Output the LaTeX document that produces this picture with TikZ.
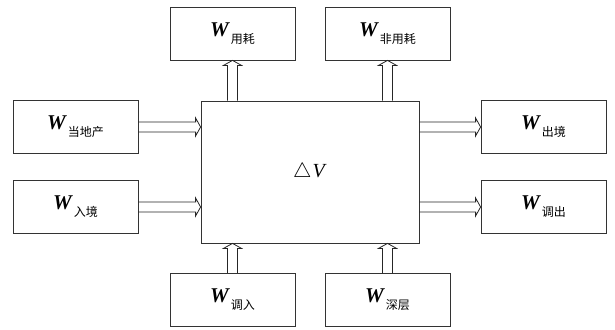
\documentclass[tikz,border=0pt]{standalone}
\usepackage{fontspec}
\setmainfont{Liberation Serif}
\newfontfamily\cjk{Noto Sans CJK SC}
\usetikzlibrary{calc}
\newcommand{\wlab}[1]{{\fontsize{21}{21}\selectfont\bfseries\itshape W}\hspace{2pt}\raisebox{-7pt}{\cjk\fontsize{12}{12}\selectfont #1}}
% upward block-outline arrow from #1 (base) to #2 (tip); y axis points down
\newcommand{\uparr}[2]{\draw[arr] ($(#1)+(-5,0)$) -- ($(#2)+(-5,5)$) -- ($(#2)+(-9,5)$) -- (#2) -- ($(#2)+(9,5)$) -- ($(#2)+(5,5)$) -- ($(#1)+(5,0)$);}
% rightward block-outline arrow from #1 (base) to #2 (tip)
\newcommand{\rtarr}[2]{\draw[arr] ($(#1)+(0,-5)$) -- ($(#2)+(-5,-5)$) -- ($(#2)+(-5,-9)$) -- (#2) -- ($(#2)+(-5,9)$) -- ($(#2)+(-5,5)$) -- ($(#1)+(0,5)$);}
\begin{document}
\begin{tikzpicture}[x=1pt,y=-1pt,
  box/.style={draw=black!80, line width=0.8pt, minimum width=125pt, minimum height=53pt, inner sep=0pt},
  arr/.style={draw=black!85, line width=0.8pt, line join=miter}]
\useasboundingbox (0,0) rectangle (615,329);
\node[box, minimum width=218pt, minimum height=142pt] (c) at (310,172) {\fontsize{20}{22}\selectfont$\triangle$\hspace{1pt}\textit{V}};
\node[box] (t1) at (232.5,33.5) {\wlab{用耗}};
\node[box] (t2) at (387.5,33.5) {\wlab{非用耗}};
\node[box] (l1) at (75.5,127) {\wlab{当地产}};
\node[box] (l2) at (75.5,207) {\wlab{入境}};
\node[box] (r1) at (543.5,127) {\wlab{出境}};
\node[box] (r2) at (543.5,207) {\wlab{调出}};
\node[box] (b1) at (232.5,300) {\wlab{调入}};
\node[box] (b2) at (387.5,300) {\wlab{深层}};
\uparr{t1.south |- c.north}{t1.south}
\uparr{t2.south |- c.north}{t2.south}
\rtarr{l1.east}{c.west |- l1.east}
\rtarr{l2.east}{c.west |- l2.east}
\rtarr{c.east |- r1.west}{r1.west}
\rtarr{c.east |- r2.west}{r2.west}
\uparr{b1.north}{b1.north |- c.south}
\uparr{b2.north}{b2.north |- c.south}
\end{tikzpicture}
\end{document}
